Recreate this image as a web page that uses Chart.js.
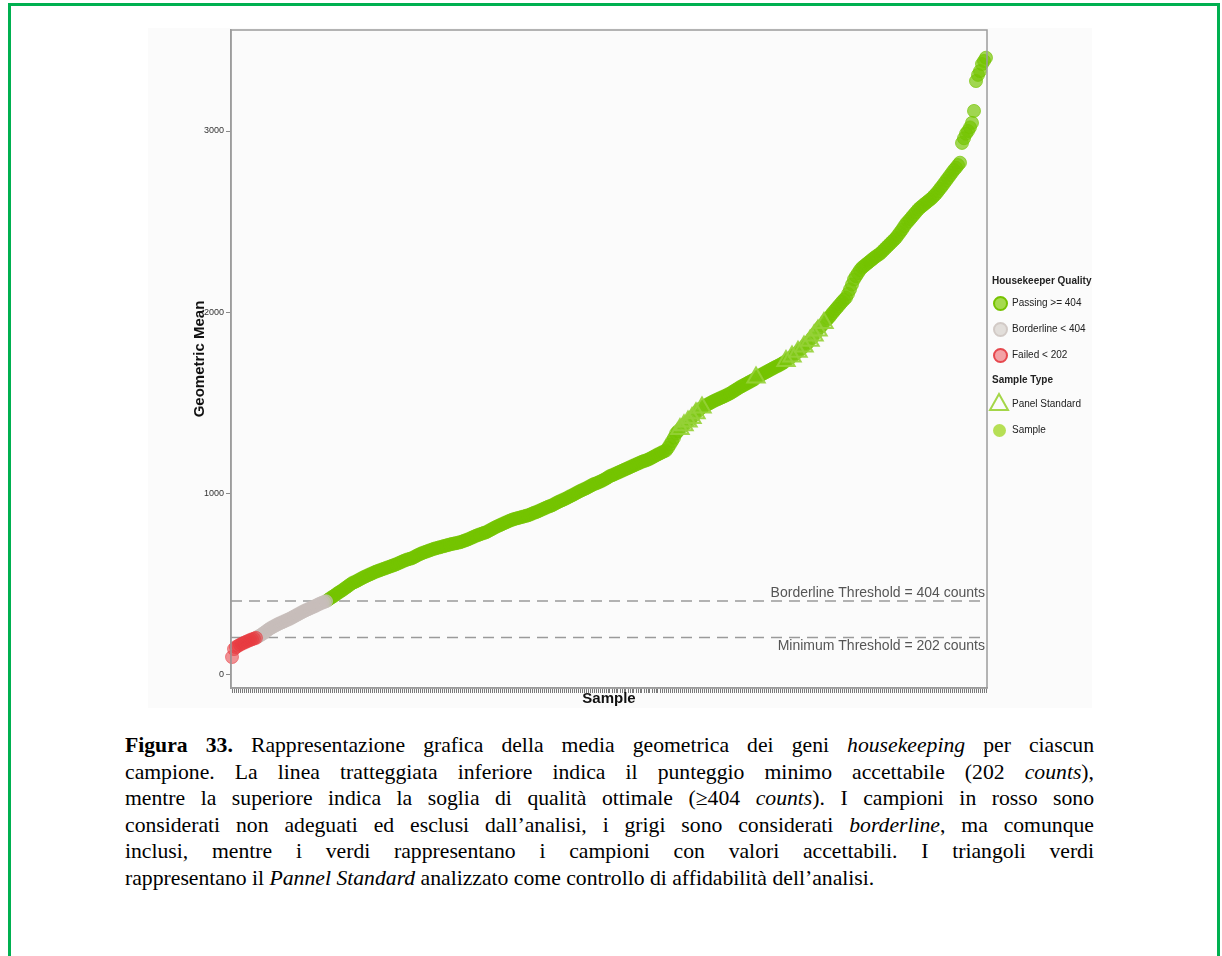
<!DOCTYPE html>
<html>
<head>
<meta charset="utf-8">
<script src="https://cdn.jsdelivr.net/npm/chart.js@4.4.1/dist/chart.umd.min.js"></script>
<style>
  body { margin: 0; width: 1222px; height: 956px; overflow: hidden; position: relative; background: #fff; font-family: "Liberation Sans", Arial, sans-serif; }
  #frame { position: absolute; left: 8px; top: 3px; width: 1206px; height: 1000px; border: 3px solid #00b050; }
  #plotBox { position: absolute; left: 148px; top: 28px; width: 944px; height: 680px; background: #fbfbfb; }
  .lg { position: absolute; font-size: 10px; color: #222; line-height: 12px; white-space: nowrap; }
  .lg b { font-weight: bold; }
  .dot { position: absolute; border-radius: 50%; box-sizing: border-box; }
  #caption { position: absolute; left: 125px; top: 732px; width: 969px; font-family: "Liberation Serif", "Times New Roman", serif; font-size: 21.7px; line-height: 26.6px; color: #000; }
  #caption .j { text-align: justify; text-align-last: justify; }
</style>
</head>
<body>
<div id="frame"></div>
<div id="plotBox"><canvas id="chart" width="944" height="680"></canvas></div>

<div class="lg" style="left:992px;top:275px"><b>Housekeeper Quality</b></div>
<div class="dot" style="left:993px;top:296px;width:15px;height:15px;background:#a6da4e;border:2px solid #76c200"></div>
<div class="lg" style="left:1012px;top:297px">Passing &gt;= 404</div>
<div class="dot" style="left:993px;top:322px;width:15px;height:15px;background:#e2deda;border:2px solid #d2cac6"></div>
<div class="lg" style="left:1012px;top:323px">Borderline &lt; 404</div>
<div class="dot" style="left:993px;top:348px;width:15px;height:15px;background:#f3a2a6;border:2px solid #e6484e"></div>
<div class="lg" style="left:1012px;top:349px">Failed &lt; 202</div>
<div class="lg" style="left:992px;top:374px"><b>Sample Type</b></div>
<svg style="position:absolute;left:988px;top:392px" width="22" height="20"><polygon points="11,2 20,18 2,18" fill="none" stroke="#a4d648" stroke-width="2"/></svg>
<div class="lg" style="left:1012px;top:398px">Panel Standard</div>
<div class="dot" style="left:993px;top:424px;width:13px;height:13px;background:#b6df55"></div>
<div class="lg" style="left:1012px;top:424px">Sample</div>

<div id="caption">
  <div class="j"><b>Figura 33.</b> Rappresentazione grafica della media geometrica dei geni <i>housekeeping</i> per ciascun</div>
  <div class="j">campione. La linea tratteggiata inferiore indica il punteggio minimo accettabile (202 <i>counts</i>),</div>
  <div class="j">mentre la superiore indica la soglia di qualità ottimale (≥404 <i>counts</i>). I campioni in rosso sono</div>
  <div class="j">considerati non adeguati ed esclusi dall’analisi, i grigi sono considerati <i>borderline</i>, ma comunque</div>
  <div class="j">inclusi, mentre i verdi rappresentano i campioni con valori accettabili. I triangoli verdi</div>
  <div>rappresentano il <i>Pannel Standard</i> analizzato come controllo di affidabilità dell’analisi.</div>
</div>

<script>
// geometric mean of housekeeping genes, one value per sample, sorted ascending
const geoMeans = [
  94, 138, 149, 156, 162, 168, 173, 178, 183, 188, 192, 196, 200,
  207, 213, 220, 228, 236, 244, 252, 258, 264, 270, 276, 281, 286, 291, 296, 301, 306, 312, 318, 324,
  330, 336, 342, 348, 353, 358, 363, 368, 373, 378, 384, 389, 394, 398, 402,
  410, 418, 425, 432, 440, 448, 455, 462, 470, 478, 486, 494,
  502, 507, 512, 518, 524, 530, 536, 541, 546, 551, 556, 561, 566, 570,
  574, 578, 582, 586, 590, 594, 598, 602, 606, 611, 616, 621, 626, 630, 634, 637,
  640, 646, 652, 658, 663, 668, 672, 676, 680,
  684, 688, 692, 695, 698, 701, 704, 707, 710, 713, 716, 719, 721, 723, 726,
  728, 732, 736, 740, 744, 749, 754, 759, 764, 768, 772, 776, 780,
  783, 789, 795, 801, 807, 813, 818, 823, 828, 833,
  838, 843, 848, 852, 856, 859, 862, 865, 868, 871, 874, 877, 881, 886, 891,
  894, 899, 904, 909, 914, 919, 924, 928,
  932, 938, 944, 950, 955, 960, 965, 970, 976, 982,
  987, 993, 999, 1005, 1011, 1016, 1021, 1026, 1032, 1038, 1044, 1050,
  1053, 1058, 1063, 1068, 1074, 1080, 1087, 1094,
  1098, 1103, 1108, 1113, 1118, 1123, 1128, 1133, 1138, 1143, 1148, 1153, 1158, 1163, 1168, 1173, 1177,
  1180, 1185, 1190, 1196, 1202, 1208, 1214, 1219, 1225, 1230,
  1235, 1250, 1268, 1286, 1305,
  1329, 1342, 1354, 1365, 1375, 1385, 1395,
  1401, 1415, 1428, 1441, 1453, 1465,
  1473, 1479, 1485, 1491, 1497, 1503, 1509, 1514, 1519, 1524, 1529, 1534, 1539, 1545,
  1550, 1557, 1564, 1571, 1578, 1585, 1591, 1597, 1603, 1609, 1615, 1621, 1627,
  1638, 1644, 1650, 1656, 1662, 1668, 1674, 1680, 1686, 1692, 1698, 1703, 1709,
  1715, 1722, 1730, 1738, 1746, 1754, 1762,
  1771, 1780, 1790, 1800, 1810, 1820, 1831,
  1842, 1856, 1870, 1884, 1898,
  1914, 1926, 1940, 1952, 1964, 1976,
  1991, 2004, 2017, 2030, 2043, 2056, 2068,
  2079, 2100, 2125, 2152,
  2180, 2198, 2215, 2232,
  2245, 2254, 2263, 2272, 2281, 2290, 2299, 2307, 2315,
  2322, 2333, 2344, 2355, 2366, 2377, 2388, 2399,
  2410, 2425, 2440, 2455, 2472,
  2488, 2500, 2513, 2526, 2539, 2552, 2565,
  2576, 2585, 2594, 2603, 2612, 2621, 2630, 2642,
  2653, 2667, 2681, 2695, 2710,
  2725, 2740, 2755, 2770, 2785,
  2797, 2812, 2825,
  2934, 2960, 2985,
  3000, 3020, 3045,
  3111, 3276, 3310, 3331, 3370, 3387, 3405
];

// positions (in sorted order) of the Panel Standard runs
const panelIdx = [224, 226, 228, 230, 232, 235, 262, 277, 280, 283, 286, 289, 291, 293, 296];

const sampleIds = geoMeans.map((v, i) => 'S' + (i + 1));
const yTicks = [0, 1000, 2000, 3000];
const thresholds = [404, 202];
const thresholdLabels = ['Borderline Threshold = 404 counts', 'Minimum Threshold = 202 counts'];

const isPanel = i => panelIdx.includes(i);
const failed = geoMeans.map((v, i) => (!isPanel(i) && v < 202) ? v : null);
const borderline = geoMeans.map((v, i) => (!isPanel(i) && v >= 202 && v < 404) ? v : null);
const passing = geoMeans.map((v, i) => (!isPanel(i) && v >= 404) ? v : null);
const panel = geoMeans.map((v, i) => isPanel(i) ? v : null);

// dashed threshold lines + their labels, drawn under the points
const thresholdLines = {
  id: 'thresholdLines',
  beforeDatasetsDraw(chart) {
    const { ctx, chartArea, scales: { y } } = chart;
    ctx.save();
    ctx.strokeStyle = '#9a9a9a';
    ctx.lineWidth = 1.6;
    ctx.setLineDash([11, 7]);
    thresholds.forEach(t => {
      const py = y.getPixelForValue(t);
      ctx.beginPath();
      ctx.moveTo(chartArea.left, py);
      ctx.lineTo(chartArea.right, py);
      ctx.stroke();
    });
    ctx.setLineDash([]);
    ctx.font = '14px "Liberation Sans", Arial, sans-serif';
    ctx.fillStyle = '#555';
    ctx.textAlign = 'right';
    ctx.textBaseline = 'bottom';
    ctx.fillText(thresholdLabels[0], chartArea.right - 2, y.getPixelForValue(thresholds[0]) - 1);
    ctx.textBaseline = 'top';
    ctx.fillText(thresholdLabels[1], chartArea.right - 2, y.getPixelForValue(thresholds[1]) + 2);
    ctx.restore();
  }
};

// box round the panel (top and right sides too)
const panelBox = {
  id: 'panelBox',
  afterDraw(chart) {
    const { ctx, chartArea } = chart;
    ctx.save();
    ctx.strokeStyle = '#9c9c9c';
    ctx.lineWidth = 1.5;
    ctx.strokeRect(chartArea.left, chartArea.top, chartArea.right - chartArea.left, chartArea.bottom - chartArea.top);
    ctx.restore();
  }
};

function pointSet(label, data, fill, border, style, radius, order) {
  return {
    label: label,
    data: data,
    order: order,
    showLine: false,
    pointStyle: style,
    pointRadius: radius,
    pointBackgroundColor: fill,
    pointBorderColor: border,
    pointBorderWidth: style === 'triangle' ? 2 : 1,
    spanGaps: false
  };
}

new Chart(document.getElementById('chart'), {
  type: 'line',
  data: {
    labels: sampleIds,
    datasets: [
      pointSet('Failed < 202', failed, 'rgba(232,58,64,0.55)', 'rgba(232,58,64,0.55)', 'circle', 6.5, 1),
      pointSet('Borderline < 404', borderline, 'rgba(200,190,186,0.7)', 'rgba(200,190,186,0.7)', 'circle', 6.5, 1),
      pointSet('Passing >= 404', passing, 'rgba(116,196,0,0.68)', 'rgba(116,196,0,0.68)', 'circle', 6.5, 1),
      // lower order is painted last, so the triangles sit on top
      pointSet('Panel Standard', panel, 'rgba(150,212,60,0.18)', 'rgba(150,210,55,0.9)', 'triangle', 10, 0)
    ]
  },
  options: {
    responsive: false,
    animation: false,
    events: [],
    layout: { autoPadding: false, padding: { left: 43, top: 2, right: 105, bottom: 0 } },
    plugins: { legend: { display: false }, tooltip: { enabled: false } },
    scales: {
      x: {
        type: 'category',
        offset: true,
        afterFit: s => { s.height = 20; s.paddingLeft = 0; s.paddingRight = 0; },
        grid: { drawOnChartArea: false, drawTicks: true, tickLength: 5, color: '#7a7a7a', offset: false },
        border: { display: true, color: '#9c9c9c', width: 1.5 },
        ticks: { autoSkip: false, maxRotation: 0, minRotation: 0, padding: 0, font: { size: 1 }, callback: () => '' },
        title: { display: true, text: 'Sample', color: '#111', padding: 0, font: { family: '"Liberation Sans", Arial, sans-serif', size: 15, weight: 'bold' } }
      },
      y: {
        type: 'linear',
        min: -77,
        max: 3558,
        afterFit: s => { s.width = 40; s.paddingTop = 0; s.paddingBottom = 0; },
        afterBuildTicks: s => { s.ticks = yTicks.map(v => ({ value: v })); },
        grid: { drawOnChartArea: false, drawTicks: true, tickLength: 5, color: '#8a8a8a' },
        border: { display: true, color: '#9c9c9c', width: 1.5 },
        ticks: { padding: 2, color: '#333', font: { family: '"Liberation Sans", Arial, sans-serif', size: 9 }, callback: v => String(v) },
        title: { display: true, text: 'Geometric Mean', color: '#111', padding: 0, font: { family: '"Liberation Sans", Arial, sans-serif', size: 15, weight: 'bold' } }
      }
    }
  },
  plugins: [thresholdLines, panelBox]
});
</script>
</body>
</html>
